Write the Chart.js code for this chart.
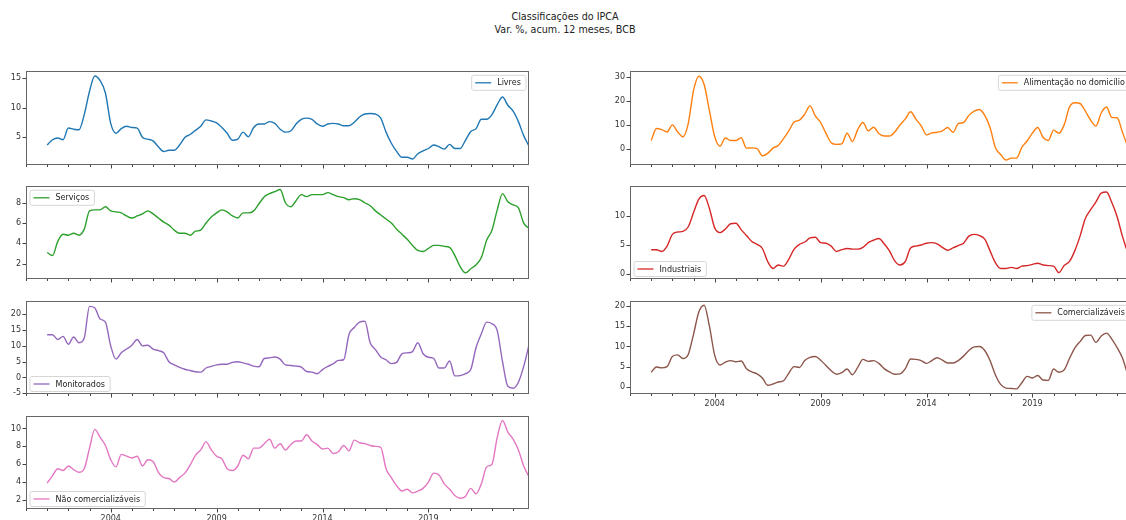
<!DOCTYPE html>
<html>
<head>
<meta charset="utf-8">
<script src="https://cdn.jsdelivr.net/npm/chart.js@4.4.1/dist/chart.umd.min.js"></script>
<style>
  html, body { margin: 0; padding: 0; background: #fff; overflow: hidden; }
  body { width: 1126px; height: 520px; position: relative; font-family: "DejaVu Sans", sans-serif; }
  #title { position: absolute; left: 0; width: 1130px; top: 11px; text-align: center;
           font-size: 9.6px; line-height: 12.5px; color: #222; }
  canvas { position: absolute; }
</style>
</head>
<body>
<div id="title">Classificações do IPCA<br>Var. %, acum. 12 meses, BCB</div>
<script>
// quarterly observations (12-month accumulated % change)
const dates = [
  "2001-01","2001-04","2001-07","2001-10","2002-01","2002-04","2002-07","2002-10",
  "2003-01","2003-04","2003-07","2003-10","2004-01","2004-04","2004-07","2004-10",
  "2005-01","2005-04","2005-07","2005-10","2006-01","2006-04","2006-07","2006-10",
  "2007-01","2007-04","2007-07","2007-10","2008-01","2008-04","2008-07","2008-10",
  "2009-01","2009-04","2009-07","2009-10","2010-01","2010-04","2010-07","2010-10",
  "2011-01","2011-04","2011-07","2011-10","2012-01","2012-04","2012-07","2012-10",
  "2013-01","2013-04","2013-07","2013-10","2014-01","2014-04","2014-07","2014-10",
  "2015-01","2015-04","2015-07","2015-10","2016-01","2016-04","2016-07","2016-10",
  "2017-01","2017-04","2017-07","2017-10","2018-01","2018-04","2018-07","2018-10",
  "2019-01","2019-04","2019-07","2019-10","2020-01","2020-04","2020-07","2020-10",
  "2021-01","2021-04","2021-07","2021-10","2022-01","2022-04","2022-07","2022-10",
  "2023-01","2023-04","2023-07","2023-10"
];

const livres = [
  3.6, 4.5, 4.8, 4.5, 6.5, 6.3, 6.2, 8.8,
  12.8, 15.4, 14.6, 12.5, 7.3, 5.6, 6.4, 6.8,
  6.6, 6.5, 4.9, 4.6, 4.3, 3.3, 2.5, 2.7,
  2.7, 3.6, 4.9, 5.4, 6.1, 6.8, 7.9, 7.7,
  7.4, 6.6, 5.6, 4.4, 4.6, 5.8, 5.0, 6.6,
  7.2, 7.2, 7.6, 7.3, 6.3, 5.8, 6.0, 7.2,
  8.0, 8.2, 8.0, 7.2, 6.8, 7.2, 7.3, 7.2,
  6.9, 6.9, 7.5, 8.4, 8.9, 9.0, 8.9, 8.2,
  5.8, 3.9, 2.5, 1.5, 1.5, 1.2, 2.1, 2.6,
  3.0, 3.6, 3.3, 2.9, 3.7, 3.0, 3.0, 4.4,
  5.9, 6.4, 8.0, 8.0, 8.8, 10.5, 11.8, 10.4,
  9.4, 7.6, 5.2, 3.4
];

const servicos = [
  3.1, 2.8, 4.2, 4.9, 4.8, 5.0, 4.8, 5.4,
  7.2, 7.3, 7.3, 7.6, 7.2, 7.1, 7.0, 6.7,
  6.5, 6.7, 6.9, 7.2, 6.9, 6.5, 6.1, 5.8,
  5.3, 5.0, 5.0, 4.8, 5.2, 5.3, 6.0, 6.6,
  7.0, 7.3, 7.1, 6.7, 6.5, 7.0, 7.0, 7.2,
  7.9, 8.6, 8.9, 9.1, 9.3, 8.0, 7.6, 8.2,
  8.8, 8.6, 8.8, 8.8, 8.8, 9.0, 8.8, 8.6,
  8.5, 8.3, 8.4, 8.3, 8.0, 7.7, 7.2, 6.8,
  6.4, 6.0, 5.4, 4.9, 4.4, 3.8, 3.3, 3.2,
  3.5, 3.8, 3.8, 3.7, 3.6, 2.8, 1.7, 1.1,
  1.5, 1.9, 2.6, 4.3, 5.3, 7.3, 8.9, 8.1,
  7.8, 7.5, 6.0, 5.5
];

const monitorados = [
  13.5, 13.5, 12.0, 13.0, 10.5, 12.8, 11.0, 12.5,
  22.5, 22.0, 18.5, 17.5, 10.0, 5.8, 7.8, 9.0,
  10.2, 12.0, 10.0, 10.2, 9.0, 8.5, 7.8, 5.0,
  4.0, 3.2, 2.6, 2.2, 1.8, 1.7, 3.0, 3.5,
  4.0, 4.2, 4.2, 4.8, 5.0, 4.6, 4.2, 3.6,
  3.4, 6.0, 6.2, 6.5, 5.8, 4.0, 3.8, 3.6,
  3.3, 1.9, 1.7, 1.2, 2.5, 3.5, 4.3, 5.4,
  5.6, 13.6, 15.8, 17.5, 17.8, 11.0, 8.8, 6.5,
  5.6, 4.4, 4.8, 7.5, 7.8, 8.2, 11.0, 7.5,
  6.4, 6.0, 3.0, 3.0, 5.2, 0.5, 0.6, 1.2,
  2.5, 9.5, 13.8, 17.5, 17.0, 14.8, 5.0, -2.8,
  -3.4, -1.5, 3.5, 10.3
];

const naoComercializaveis = [
  3.9, 4.7, 5.5, 5.3, 5.8, 5.4, 5.1, 5.5,
  7.8, 9.9, 9.0, 8.1, 6.5, 5.7, 7.1, 6.9,
  6.7, 6.9, 5.8, 6.5, 6.3, 5.1, 4.5, 4.4,
  4.0, 4.5, 5.0, 5.9, 7.0, 7.6, 8.5, 7.6,
  6.9, 6.6, 5.5, 5.3, 5.8, 7.0, 6.6, 7.8,
  7.8, 8.3, 8.8, 7.8, 8.3, 7.6, 8.2, 8.6,
  8.6, 9.3, 8.6, 8.2, 7.7, 7.8, 7.2, 7.4,
  8.1, 7.5, 8.7, 8.4, 8.3, 8.1, 8.0, 7.9,
  5.5, 4.5, 3.6, 3.0, 3.2, 2.8, 3.0, 3.3,
  4.0, 5.0, 4.8, 3.8, 3.2, 2.5, 2.2, 2.4,
  3.3, 2.7, 3.8, 5.7, 6.0, 9.0, 10.9, 9.6,
  8.8, 7.6, 5.8, 4.6
];

const alimentacao = [
  3.4, 8.5, 8.0, 7.0, 10.0, 7.0, 5.0, 10.5,
  24.5, 30.5, 27.0, 16.0, 5.0, 1.0, 4.5, 3.4,
  3.4, 4.6, 0.2, 0.3, 0.0, -3.0, -2.0, 0.2,
  1.3, 4.2, 7.5, 11.2, 12.0, 14.5, 18.0, 13.8,
  11.0, 6.5, 2.5, 1.8, 2.0, 6.5, 3.0, 8.0,
  11.0, 7.5, 9.0, 6.4, 5.3, 5.3, 7.0, 10.0,
  12.5, 15.5, 12.4, 9.6, 5.8, 6.6, 6.9, 7.5,
  8.9, 6.9, 10.5, 11.0, 14.0, 15.8, 16.5, 14.0,
  8.9, 0.5, -2.5, -4.8, -4.0, -4.0, 0.5, 3.2,
  6.5, 8.9, 4.8, 3.4, 7.8, 6.5, 10.0, 17.5,
  19.3, 19.0, 15.8, 12.0, 9.5, 15.0, 17.5, 13.1,
  13.0, 7.0, 1.4, 0.5
];

const industriais = [
  4.2, 4.2, 3.9, 4.8, 6.8, 7.2, 7.3, 8.1,
  10.5, 12.8, 13.4, 11.2, 7.9, 7.1, 7.7, 8.6,
  8.7, 7.6, 6.6, 5.6, 5.1, 4.4, 2.2, 1.0,
  1.6, 1.4, 2.6, 4.3, 5.1, 5.5, 6.2, 6.3,
  5.4, 5.3, 4.8, 3.9, 4.2, 4.4, 4.3, 4.3,
  4.6, 5.4, 5.8, 6.1, 5.2, 4.0, 2.3, 1.6,
  2.2, 4.5, 4.8, 5.0, 5.3, 5.4, 5.2, 4.6,
  4.1, 4.5, 4.9, 5.3, 6.5, 6.8, 6.6, 6.0,
  4.0, 2.0, 1.0, 1.0, 1.2, 1.0, 1.4, 1.5,
  1.7, 1.9, 1.6, 1.5, 1.4, 0.3, 1.5, 2.2,
  4.0, 6.5, 9.5, 11.0, 12.3, 13.8, 14.0, 12.2,
  9.8, 6.5, 3.8, 2.5
];

const comercializaveis = [
  3.6, 4.9, 4.7, 5.0, 7.5, 7.9, 7.0, 8.0,
  13.0, 18.5, 20.2, 15.0, 7.8, 5.4, 6.1, 6.5,
  6.2, 6.4, 4.5, 3.7, 3.2, 2.2, 0.4, 0.7,
  1.2, 1.5, 3.4, 5.0, 4.8, 6.5, 7.3, 7.5,
  6.6, 5.3, 4.0, 3.1, 3.5, 4.4, 3.0, 4.8,
  6.8, 6.3, 6.5, 5.8, 4.5, 3.7, 3.1, 3.2,
  4.5, 6.9, 6.8, 6.5, 5.8, 6.5, 7.2, 6.6,
  5.9, 5.9, 6.5, 7.6, 9.0, 9.9, 10.0, 9.0,
  6.5, 3.0, 0.6, -0.3, -0.4, -0.5, 1.0, 2.6,
  2.2, 2.8, 1.7, 1.6, 4.4, 3.6, 4.2, 7.0,
  9.6, 11.2, 12.7, 12.8, 11.0, 12.6, 13.3, 11.8,
  9.7, 7.2, 3.2, 1.5
];

// axis ticks
const yearTicks = [2000, 2001, 2002, 2003, 2004, 2005, 2006, 2007, 2008, 2009, 2010, 2011,
                   2012, 2013, 2014, 2015, 2016, 2017, 2018, 2019, 2020, 2021, 2022, 2023];
const yearLabels = [2004, 2009, 2014, 2019];
const ticksLivres = [5, 10, 15];
const ticksServicos = [2, 4, 6, 8];
const ticksMonitorados = [-5, 0, 5, 10, 15, 20];
const ticksNaoComerc = [2, 4, 6, 8, 10];
const ticksAlimentacao = [0, 10, 20, 30];
const ticksIndustriais = [0, 5, 10];
const ticksComerc = [0, 5, 10, 15, 20];

function toYear(d) {
  const parts = d.split("-");
  return parseInt(parts[0], 10) + (parseInt(parts[1], 10) - 1) / 12;
}

const FONT = "DejaVu Sans";

// spines, tick marks and matplotlib-like legend box
const frame = {
  id: "frame",
  afterDraw(chart, args, opts) {
    const ctx = chart.ctx;
    const a = chart.chartArea;
    const sx = chart.scales.x, sy = chart.scales.y;
    ctx.save();
    ctx.strokeStyle = "#444";
    ctx.lineWidth = 1;
    ctx.beginPath();
    sy.ticks.forEach((t) => {
      const py = Math.round(sy.getPixelForValue(t.value)) + 0.5;
      ctx.moveTo(a.left, py);
      ctx.lineTo(a.left - 3.5, py);
    });
    yearTicks.forEach((yr) => {
      const px = Math.round(sx.getPixelForValue(yr)) + 0.5;
      const len = yearLabels.includes(yr) ? 3.5 : 2;
      ctx.moveTo(px, a.bottom);
      ctx.lineTo(px, a.bottom + len);
    });
    ctx.stroke();
    ctx.strokeStyle = "#666";
    ctx.strokeRect(Math.round(a.left) + 0.5, Math.round(a.top) + 0.5,
                   Math.round(a.width) - 1, Math.round(a.height) - 1);

    // legend
    ctx.font = "8px '" + FONT + "'";
    const tw = ctx.measureText(opts.label).width;
    const bw = 30.7 + tw, bh = 15;
    const bx = opts.corner.includes("r") ? a.right - 3.5 - bw : a.left + 3.5;
    const by = opts.corner.includes("u") ? a.top + 4 : a.bottom - 3 - bh;
    ctx.beginPath();
    ctx.roundRect(bx + 0.5, by + 0.5, bw, bh, 2);
    ctx.fillStyle = "rgba(255,255,255,0.85)";
    ctx.fill();
    ctx.strokeStyle = "#d6d6d6";
    ctx.stroke();
    ctx.beginPath();
    ctx.strokeStyle = opts.color;
    ctx.lineWidth = 1.3;
    ctx.moveTo(bx + 4, by + bh / 2 + 0.5);
    ctx.lineTo(bx + 20, by + bh / 2 + 0.5);
    ctx.stroke();
    ctx.fillStyle = "#222";
    ctx.textBaseline = "middle";
    ctx.textAlign = "left";
    ctx.fillText(opts.label, bx + 26, by + bh / 2 + 1);
    ctx.restore();
  },
};

function makePanel(left, top, h, label, values, color, yMin, yMax, yTicks, corner, showYears) {
  const ML = 34, MT = 8, MR = 6, MB = 22, W = 503;
  const cv = document.createElement("canvas");
  cv.width = ML + W + MR;
  cv.height = MT + h + MB;
  cv.style.left = left - ML + "px";
  cv.style.top = top - MT + "px";
  cv.style.width = cv.width + "px";
  cv.style.height = cv.height + "px";
  document.body.appendChild(cv);

  new Chart(cv, {
    type: "line",
    data: {
      datasets: [
        {
          label: label,
          data: dates.map((d, i) => ({ x: toYear(d), y: values[i] })),
          borderColor: color,
          borderWidth: 1.4,
          pointRadius: 0,
          cubicInterpolationMode: "monotone",
        },
      ],
    },
    options: {
      responsive: false,
      animation: false,
      events: [],
      layout: { padding: { left: 0, top: MT, right: MR, bottom: 0 } },
      plugins: {
        legend: { display: false },
        tooltip: { enabled: false },
        frame: { label: label, color: color, corner: corner },
      },
      scales: {
        x: {
          type: "linear",
          min: 2000,
          max: 2023.75,
          grid: { display: false, drawTicks: false },
          border: { display: false },
          afterBuildTicks: (s) => { s.ticks = yearTicks.map((v) => ({ value: v })); },
          afterFit: (s) => { s.height = MB; },
          ticks: {
            autoSkip: false,
            maxRotation: 0,
            padding: 5,
            color: "#333",
            font: { family: FONT, size: 8 },
            callback: (v) => (showYears && yearLabels.includes(v) ? String(v) : ""),
          },
        },
        y: {
          min: yMin,
          max: yMax,
          grid: { display: false, drawTicks: false },
          border: { display: false },
          afterBuildTicks: (s) => { s.ticks = yTicks.map((v) => ({ value: v })); },
          afterFit: (s) => { s.width = ML; },
          ticks: {
            padding: 5,
            color: "#333",
            font: { family: FONT, size: 8 },
            callback: (v) => String(v),
          },
        },
      },
    },
    plugins: [frame],
  });
}

// left column
makePanel(26, 69, 96, "Livres", livres, "#1f77b4", 0.18, 16.29, ticksLivres, "ur", false);
makePanel(26, 184, 95, "Serviços", servicos, "#2ca02c", 0.49, 9.67, ticksServicos, "ul", false);
makePanel(26, 299, 95, "Monitorados", monitorados, "#9467bd", -5.22, 24.25, ticksMonitorados, "ll", false);
makePanel(26, 414, 95, "Não comercializáveis", naoComercializaveis, "#e377c2", 0.99, 11.42, ticksNaoComerc, "ll", true);
// right column
makePanel(630, 69, 96, "Alimentação no domicílio", alimentacao, "#ff7f0e", -6.9, 32.77, ticksAlimentacao, "ur", false);
makePanel(630, 184, 95, "Industriais", industriais, "#d62728", -0.78, 15.05, ticksIndustriais, "ll", false);
makePanel(630, 299, 95, "Comercializáveis", comercializaveis, "#8c564b", -1.77, 21.29, ticksComerc, "ur", true);
</script>
</body>
</html>
